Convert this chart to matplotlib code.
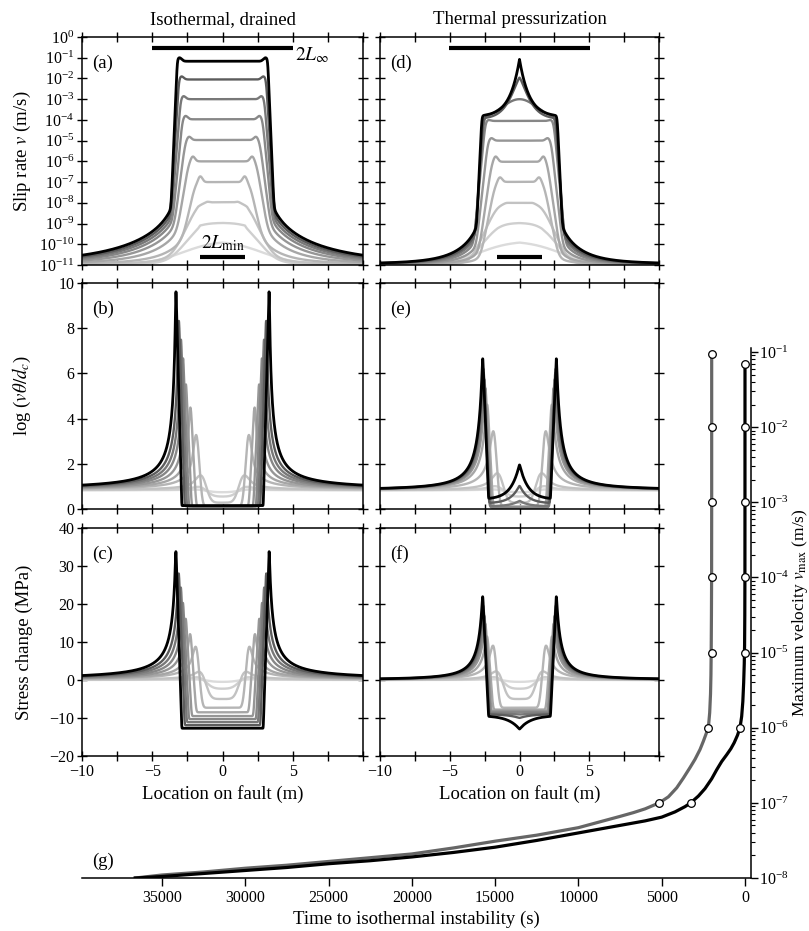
import numpy as np
import matplotlib
matplotlib.use("Agg")
import matplotlib.pyplot as plt
from matplotlib.ticker import LogLocator, NullLocator, NullFormatter

plt.rcParams['font.family'] = ['Liberation Serif', 'DejaVu Serif']
plt.rcParams['mathtext.fontset'] = 'stix'
plt.rcParams['axes.linewidth'] = 1.1

# ---- snapshots v_max = 1e-10 ... 1e-1 m/s (light grey -> black) ----
shades = ['0.86', '0.81', '0.76', '0.71', '0.65', '0.59', '0.53', '0.47', '0.36', '0.0']

# (a) isothermal slip-rate profiles (log10 v)
iso_v_plateau = [-9.88, -8.97, -7.97, -7.0, -6.0, -4.97, -3.97, -3.0, -2.05, -1.17]
iso_v_bump = [0.0, 0.0, 0.05, 0.3, 0.25, 0.17, 0.17, 0.15, 0.15, 0.17]
iso_v_edge = [1.6, 1.6, 1.75, 1.95, 2.42, 2.65, 2.86, 2.98, 3.1, 3.22]
iso_v_step = [1.0, 0.45, 0.28, 0.13, 0.1, 0.08, 0.06, 0.05, 0.04, 0.027]
iso_v_tail = [0.0, 0.01, 0.04, 0.1, 0.2, 0.35, 0.5, 0.65, 0.8, 1.0]

# (d) thermal pressurization slip-rate profiles
tp_v_plateau = [-9.88, -8.97, -8.0, -6.99, -6.02, -5.0, -4.05, -4.0, -3.95, -3.85]
tp_v_bump = [0.0, 0.0, 0.03, 0.24, 0.27, 0.13, 0.05, 0.0, 0.0, 0.0]
tp_v_edge = [1.6, 1.6, 1.6, 1.75, 2.0, 2.27, 2.45, 2.55, 2.62, 2.7]
tp_v_step = [1.0, 0.45, 0.28, 0.12, 0.09, 0.07, 0.06, 0.05, 0.04, 0.03]
tp_v_tail = [0.0, 0.01, 0.04, 0.1, 0.2, 0.35, 0.5, 0.65, 0.8, 1.0]
tp_v_cusp = [0, 0, 0, 0, 0, 0, 0, 1.0, 1.99, 2.77]
tp_v_cusp_len = [1, 1, 1, 1, 1, 1, 1, 1.8, 0.9, 0.7]
tp_v_cusp_pow = [1, 1, 1, 1, 1, 1, 1, 2.0, 1.3, 1.0]

# crack-tip positions and smoothing of the tip profiles
iso_tip = [1.5, 1.45, 1.45, 1.88, 2.3, 2.62, 2.82, 2.97, 3.12, 3.32]
tp_tip = [1.5, 1.45, 1.45, 1.86, 2.32, 2.45, 2.52, 2.57, 2.61, 2.64]
tip_smooth = [0.5, 0.4, 0.28, 0.12, 0.06, 0.04, 0.03, 0.03, 0.03, 0.015]

# (b) log(v theta / dc), isothermal
iso_state_peak = [0.95, 1.3, 2.3, 4.3, 5.2, 6.1, 7.2, 8.1, 9.0, 10.0]
iso_state_floor = [0.74, 0.55, 0.28, 0.12, 0.1, 0.1, 0.11, 0.12, 0.13, 0.15]
# (c) stress change, isothermal
iso_stress_peak = [0.6, 2.2, 5.0, 12.5, 14.5, 18.2, 22.2, 26.6, 30.6, 35.3]
iso_stress_floor = [-0.5, -2.3, -5.0, -7.3, -8.5, -9.5, -10.3, -11.1, -11.9, -12.7]
# (e) log(v theta / dc), thermal pressurization
tp_state_peak = [0.95, 1.3, 2.3, 4.3, 5.2, 5.8, 6.1, 6.4, 6.6, 6.85]
tp_state_floor = [0.74, 0.55, 0.28, 0.12, 0.05, 0.05, 0.07, 0.12, 0.25, 0.43]
tp_state_cusp = [0, 0, 0, 0, 0, 0, 0, 0.25, 0.8, 1.55]
# (f) stress change, thermal pressurization
tp_stress_peak = [0.6, 2.2, 5.0, 12.5, 13.5, 16.5, 18.3, 19.8, 21.2, 22.8]
tp_stress_floor = [-0.5, -2.3, -5.0, -7.3, -7.8, -8.2, -8.5, -8.8, -9.0, -9.35]
tp_stress_cusp = [0, 0, 0, 0, 0, 0, 0, -0.3, -1.0, -3.6]

# half-lengths of the 2L bars
L_inf = [5.02, 5.05]
L_min = [1.58, 1.59]

# (g) maximum velocity vs time to isothermal instability
tp_time = [36600, 35000, 32500, 30000, 27500, 25000, 22500, 20000, 17500, 15000,
           12500, 10000, 8500, 7500, 6700, 6000, 5145, 4600, 4100, 3700, 3300,
           3000, 2700, 2500, 2350, 2200, 2120, 2070, 2045, 2030, 2015, 2005,
           2000, 2000, 2000]
tp_logv = [-8.0, -7.96, -7.92, -7.87, -7.83, -7.78, -7.73, -7.68, -7.6, -7.51,
           -7.43, -7.33, -7.24, -7.18, -7.13, -7.08, -7.0, -6.92, -6.8, -6.67, -6.53,
           -6.42, -6.29, -6.18, -6.09, -6.0, -5.8, -5.55, -5.3, -5.0, -4.5, -4.0,
           -3.0, -2.0, -1.03]
iso_time = [36600, 35000, 32500, 30000, 27500, 25000, 22500, 20000, 17500, 15000,
            12500, 10000, 8500, 7000, 6000, 5000, 4200, 3600, 3260, 2800, 2400,
            2000, 1700, 1400, 1100, 850, 650, 450, 300, 200, 130, 80, 45, 25, 12,
            5, 2, 1, 0]
iso_logv = [-8.0, -7.98, -7.94, -7.9, -7.86, -7.81, -7.77, -7.72, -7.66, -7.59,
            -7.5, -7.4, -7.34, -7.28, -7.24, -7.19, -7.12, -7.05, -7.0, -6.91, -6.81,
            -6.68, -6.56, -6.45, -6.36, -6.28, -6.2, -6.1, -6.0, -5.85, -5.65, -5.4,
            -5.15, -4.9, -4.5, -4.0, -3.0, -2.0, -1.15]
tp_mark_t = [5145, 2200, 2000, 2000, 2000, 2000, 2000]
tp_mark_v = [1e-7, 1e-6, 1e-5, 1e-4, 1e-3, 1e-2, 9.4e-2]
iso_mark_t = [3260, 300, 0, 0, 0, 0, 0]
iso_mark_v = [1e-7, 1e-6, 1e-5, 1e-4, 1e-3, 1e-2, 7e-2]

x = np.linspace(-10, 10, 4001)
dx = x[1] - x[0]


def smooth(y, s):
    n = int(4 * s / dx)
    if n < 1:
        return y
    k = np.exp(-0.5 * (np.arange(-n, n + 1) * dx / s) ** 2)
    k /= k.sum()
    yp = np.concatenate([np.full(n, y[0]), y, np.full(n, y[-1])])
    return np.convolve(yp, k, mode='valid')


def tip_profile(tip, peak, floor, far, L, n, cusp=0.0, cusp_len=0.7, drop=0.42, s=0.03):
    ax = np.abs(x)
    inner = floor + cusp * np.exp(-ax / cusp_len)
    edge = floor + cusp * np.exp(-(tip - drop) / cusp_len)
    outer = far + (peak - far) * (1 + np.clip(ax - tip, 0, None) / L) ** (-n)
    ramp = edge + (peak - edge) * (ax - (tip - drop)) / drop
    y = np.where(ax >= tip, outer, np.where(ax >= tip - drop, ramp, inner))
    return smooth(y, s)


def slip_profile(plateau, bump, edge, w, tail, C, cusp=0.0, cl=1.0, cq=1.0, bg=1.1e-11):
    ax = np.abs(x)
    lp = plateau + bump * np.exp(-((ax - (edge - 0.1 - 2 * w)) / 0.22) ** 2)
    lp = lp + cusp * np.exp(-(ax / cl) ** cq)
    S = 1.0 / (1.0 + np.exp((ax - edge) / w))
    d = np.clip(ax - edge, 0, None)
    return 10 ** lp * S + (1 - S) * tail * C * (d + 0.3) ** (-2.5) + bg


W, H = 809, 931
fig = plt.figure(figsize=(W / 100, H / 100), dpi=100)


def box(l, t, r, b):
    return [l / W, 1 - b / H, (r - l) / W, (b - t) / H]


ax_a = fig.add_axes(box(82, 37, 363, 265))
ax_b = fig.add_axes(box(82, 283, 363, 509))
ax_c = fig.add_axes(box(82, 528, 363, 756))
ax_d = fig.add_axes(box(380, 37, 659, 265))
ax_e = fig.add_axes(box(380, 283, 659, 509))
ax_f = fig.add_axes(box(380, 528, 659, 756))

for k in range(10):
    lw = 2.0 if k == 9 else 1.7
    c = shades[k]
    ax_a.plot(x, slip_profile(iso_v_plateau[k], iso_v_bump[k], iso_v_edge[k], iso_v_step[k],
                              iso_v_tail[k], 2.5e-9), color=c, lw=lw)
    ax_d.plot(x, slip_profile(tp_v_plateau[k], tp_v_bump[k], tp_v_edge[k], tp_v_step[k],
                              tp_v_tail[k], 2.5e-10, tp_v_cusp[k], tp_v_cusp_len[k],
                              tp_v_cusp_pow[k]), color=c, lw=lw)
    ax_b.plot(x, tip_profile(iso_tip[k], iso_state_peak[k], iso_state_floor[k], 0.83, 0.17, 1.0,
                             s=tip_smooth[k]), color=c, lw=lw)
    ax_c.plot(x, tip_profile(iso_tip[k], iso_stress_peak[k], iso_stress_floor[k], 0.0, 0.23, 1.0,
                             s=tip_smooth[k]), color=c, lw=lw)
    ax_e.plot(x, tip_profile(tp_tip[k], tp_state_peak[k], tp_state_floor[k], 0.83, 0.45, 1.5,
                             cusp=tp_state_cusp[k], cusp_len=0.6, s=tip_smooth[k]), color=c, lw=lw)
    ax_f.plot(x, tip_profile(tp_tip[k], tp_stress_peak[k], tp_stress_floor[k], 0.0, 0.45, 1.5,
                             cusp=tp_stress_cusp[k], cusp_len=0.8, s=tip_smooth[k]), color=c, lw=lw)

FS = 13.5
TS = 11.5
xt = np.arange(-10, 10.1, 2.5)
xl = ['\u221210', '', '\u22125', '', '0', '', '5', '', '']
for ax in (ax_a, ax_b, ax_c, ax_d, ax_e, ax_f):
    ax.set_xlim(-10, 10)
    ax.set_xticks(xt)
    ax.set_xticklabels(xl)
    ax.tick_params(direction='inout', length=7, width=1.0, top=True, right=True,
                   labelsize=TS, pad=2)
for ax in (ax_a, ax_b, ax_d, ax_e):
    ax.tick_params(labelbottom=False)
for ax in (ax_d, ax_e, ax_f):
    ax.tick_params(labelleft=False)

for ax in (ax_a, ax_d):
    ax.set_yscale('log')
    ax.set_ylim(1e-11, 1)
    ax.yaxis.set_major_locator(LogLocator(base=10, numticks=20))
    ax.yaxis.set_minor_locator(NullLocator())
for ax in (ax_b, ax_e):
    ax.set_ylim(0, 10)
    ax.set_yticks([0, 2, 4, 6, 8, 10])
for ax in (ax_c, ax_f):
    ax.set_ylim(-20, 40)
    ax.set_yticks([-20, -10, 0, 10, 20, 30, 40])

# 2L bars
for ax, li, lm in ((ax_a, L_inf[0], L_min[0]), (ax_d, L_inf[1], L_min[1])):
    ax.plot([-li, li], [0.3, 0.3], color='k', lw=3, solid_capstyle='butt')
    ax.plot([-lm, lm], [2.45e-11, 2.45e-11], color='k', lw=3, solid_capstyle='butt')
ax_a.text(5.15, 0.13, r'$2L_\infty$', fontsize=14, va='center', ha='left')
ax_a.text(0.05, 1.15e-10, r'$2L_{\rm min}$', fontsize=14, va='center', ha='center')

for ax, lab in zip((ax_a, ax_b, ax_c, ax_d, ax_e, ax_f), 'abcdef'):
    ax.text(0.036, 0.885, '(%s)' % lab, transform=ax.transAxes, fontsize=FS,
            va='center', ha='left')

ax_a.set_title('Isothermal, drained', fontsize=FS, pad=9)
ax_d.set_title('Thermal pressurization', fontsize=FS, pad=9)
ax_a.set_ylabel(r'Slip rate $v$ (m/s)', fontsize=FS)
ax_b.set_ylabel(r'log ($v\theta/d_c$)', fontsize=FS)
ax_c.set_ylabel('Stress change (MPa)', fontsize=FS)
ax_c.set_xlabel('Location on fault (m)', fontsize=FS, labelpad=4)
ax_f.set_xlabel('Location on fault (m)', fontsize=FS, labelpad=4)
for ax in (ax_a, ax_b, ax_c):
    ax.yaxis.set_label_coords(-0.175, 0.5)

# (g) time to instability
ax_g = fig.add_axes(box(82, 348, 751, 878))
ax_g.patch.set_alpha(0)
ax_g.plot(tp_time, 10 ** np.array(tp_logv), color='0.4', lw=2.3, zorder=2)
ax_g.plot(iso_time, 10 ** np.array(iso_logv), color='k', lw=2.3, zorder=3)
ax_g.plot(tp_mark_t, tp_mark_v, 'o', ms=5.5, mfc='white', mec='k', mew=0.9, zorder=4)
ax_g.plot(iso_mark_t, iso_mark_v, 'o', ms=5.5, mfc='white', mec='k', mew=0.9, zorder=4)
ax_g.set_yscale('log')
ax_g.set_ylim(1e-8, 1.13e-1)
ax_g.set_xlim(39800, -360)
ax_g.spines['left'].set_visible(False)
ax_g.spines['top'].set_visible(False)
ax_g.yaxis.tick_right()
ax_g.yaxis.set_major_locator(LogLocator(base=10, numticks=20))
ax_g.yaxis.set_minor_locator(LogLocator(base=10, subs=np.arange(2, 10), numticks=20))
ax_g.yaxis.set_minor_formatter(NullFormatter())
ax_g.set_xticks([35000, 30000, 25000, 20000, 15000, 10000, 5000, 0])
ax_g.xaxis.get_offset_text().set_visible(False)
ax_g.tick_params(axis='x', which='major', direction='out', length=6, width=1.0,
                 labelsize=TS, pad=3)
ax_g.tick_params(axis='y', which='major', direction='out', length=5, width=1.0,
                 labelsize=TS, pad=0.5)
ax_g.tick_params(axis='y', which='minor', direction='out', length=3, width=0.8)
ax_g.set_xlabel('Time to isothermal instability (s)', fontsize=FS, labelpad=3)
fig.text(799.5 / W, 1 - 613 / H, r'Maximum velocity $v_{\rm max}$ (m/s)', fontsize=12.5,
         rotation=90, ha='center', va='center')
ax_g.text(0.015, 0.032, '(g)', transform=ax_g.transAxes, fontsize=FS, va='center', ha='left')

fig.savefig('out.png', dpi=100)
